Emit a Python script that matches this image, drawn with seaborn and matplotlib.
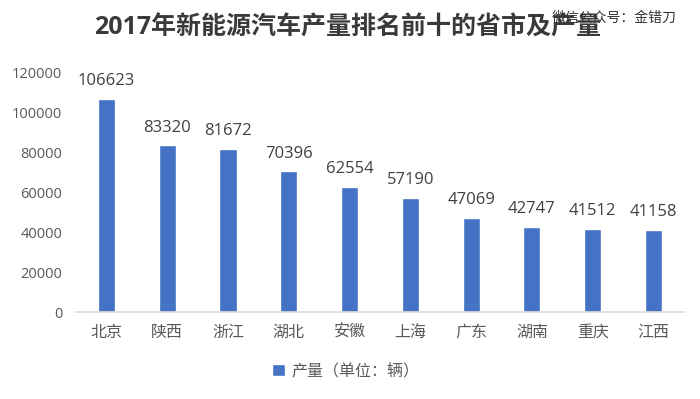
import matplotlib
matplotlib.use("Agg")
import matplotlib.pyplot as plt
import seaborn as sns
import pandas as pd

# data
provinces = ['北京', '陕西', '浙江', '湖北', '安徽', '上海', '广东', '湖南', '重庆', '江西']
output = [106623, 83320, 81672, 70396, 62554, 57190, 47069, 42747, 41512, 41158]
series_name = '产量（单位：辆）'
title = '2017年新能源汽车产量排名前十的省市及产量'
watermark = '微信公众号：金错刀'

df = pd.DataFrame({'省市': provinces, '产量': output})

sns.set_style('white')
plt.rcParams['font.family'] = ['Open Sans', 'Noto Sans CJK SC', 'DejaVu Sans']

fig = plt.figure(figsize=(7, 3.99), dpi=100)
ax = fig.add_axes([0.1086, 0.218, 0.8684, 0.6015])

sns.barplot(data=df, x='省市', y='产量', color='#4472C4', width=0.28,
            saturation=1, label=series_name, ax=ax)

# value labels above the bars
ax.bar_label(ax.containers[0], fmt='%d', padding=7, fontsize=12, color='#404040')

ax.set_ylim(0, 120000)
ax.set_yticks(range(0, 120001, 20000))
ax.set_xlim(-0.5, len(provinces) - 0.5)
ax.set_xlabel('')
ax.set_ylabel('')

for s in ['top', 'right', 'left']:
    ax.spines[s].set_visible(False)
ax.spines['bottom'].set_color('#D9D9D9')
ax.spines['bottom'].set_linewidth(1.2)

ax.tick_params(axis='y', length=0, pad=10, labelsize=10.5, labelcolor='#595959')
ax.tick_params(axis='x', length=0, pad=9, labelsize=11.5, labelcolor='#595959')

ax.legend(loc='center', bbox_to_anchor=(0.494, 0.068), bbox_transform=fig.transFigure,
          frameon=False, handlelength=0.8, handleheight=0.8, handletextpad=0.4,
          prop={'size': 11.5}, labelcolor='#595959')

fig.text(0.497, 0.93, title, ha='center', va='center', fontsize=18,
         color='#3a3a3a', fontweight='bold')
fig.text(0.967, 0.955, watermark, ha='right', va='center', fontsize=10, color='#333333')

fig.savefig('out.png', dpi=100)
